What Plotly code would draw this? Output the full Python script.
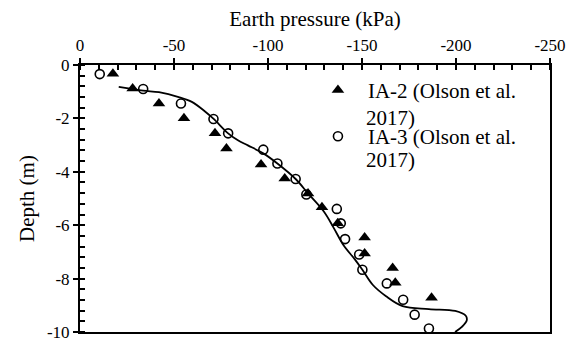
import plotly.graph_objects as go

# IA-2 measurements (triangles)
ia2_pressure = [-17.5, -28.0, -42.0, -55.3, -71.8, -77.9, -96.3, -108.9, -121.3,
                -128.7, -137.1, -151.4, -151.4, -166.3, -167.7, -187.0, -205.2]
ia2_depth = [-0.33, -0.88, -1.44, -1.99, -2.56, -3.13, -3.73, -4.25, -4.81,
             -5.33, -5.93, -6.46, -7.06, -7.60, -8.16, -8.72, -10.05]

# IA-3 measurements (open circles)
ia3_pressure = [-10.5, -33.6, -53.7, -71.0, -78.8, -97.5, -105.0, -114.7, -120.4,
                -136.6, -138.7, -141.0, -148.5, -150.2, -163.2, -171.9, -178.0, -185.6]
ia3_depth = [-0.34, -0.90, -1.44, -2.02, -2.56, -3.17, -3.69, -4.27, -4.85,
             -5.39, -5.93, -6.52, -7.10, -7.67, -8.18, -8.79, -9.35, -9.87]

# Computed earth pressure profile (solid line)
curve_pressure = [-20.6, -33.6, -42.0, -52.5, -59.5, -66.5, -71.1, -78.8, -84.0, -89.3,
                  -97.7, -105.0, -114.7, -121.3, -129.6, -134.8, -140.1, -146.2, -150.2,
                  -155.8, -162.8, -171.6, -185.6, -199.6, -205.2, -205.7, -203.1, -199.5]
curve_depth = [-0.82, -0.96, -1.02, -1.20, -1.38, -1.74, -2.02, -2.56, -2.82, -3.01,
               -3.32, -3.69, -4.27, -4.81, -5.48, -6.08, -6.74, -7.28, -7.67,
               -8.24, -8.66, -9.03, -9.14, -9.21, -9.39, -9.57, -9.81, -10.0]

x_tick_vals = [0, -50, -100, -150, -200, -250]
x_tick_text = ["0", "-50", "-100", "-150", "-200", "-250"]
y_tick_vals = [0, -2, -4, -6, -8, -10]
y_tick_text = ["0", "-2", "-4", "-6", "-8", "-10"]

legend_first_lines = ["IA-2 (Olson et al.", "IA-3 (Olson et al."]
legend_second_line = "2017)"

FONT = "Liberation Serif"
X_RANGE = [0, -250]
Y_RANGE = [-10, 0]

fig = go.Figure()

fig.add_trace(go.Scatter(
    x=curve_pressure, y=curve_depth, mode="lines",
    line=dict(color="black", width=1.8, shape="spline", smoothing=1.0),
    showlegend=False, hoverinfo="skip"))

fig.add_trace(go.Scatter(
    x=ia2_pressure, y=ia2_depth, mode="markers",
    name=legend_first_lines[0], legendgroup="ia2",
    marker=dict(symbol="triangle-up", size=11, color="black"),
    cliponaxis=False))

fig.add_trace(go.Scatter(
    x=ia3_pressure, y=ia3_depth, mode="markers",
    name=legend_first_lines[1], legendgroup="ia3",
    marker=dict(symbol="circle-open", size=9, color="black",
                line=dict(color="black", width=1.6)),
    cliponaxis=False))

# empty trace that carries the overlay axes used for the inner half of major ticks
fig.add_trace(go.Scatter(x=[], y=[], xaxis="x2", yaxis="y2",
                         showlegend=False, hoverinfo="skip"))

axis_common = dict(
    showgrid=False, zeroline=False,
    showline=True, linecolor="black", linewidth=2, mirror=True,
    ticks="outside", ticklen=5, tickwidth=1.5, tickcolor="black",
    tickfont=dict(family=FONT, size=17, color="black"),
)

fig.update_layout(
    width=577, height=353,
    margin=dict(l=80, r=21, t=65, b=11),
    paper_bgcolor="white", plot_bgcolor="white",
    font=dict(family=FONT, color="black"),
    xaxis=dict(
        **axis_common,
        side="top", range=X_RANGE,
        tickmode="array", tickvals=x_tick_vals, ticktext=x_tick_text,
        minor=dict(ticks="inside", ticklen=5, tickwidth=1.5, tickcolor="black",
                   tickmode="linear", tick0=0, dtick=10),
        title=dict(text="Earth pressure (kPa)",
                   font=dict(family=FONT, size=21, color="black"), standoff=4),
    ),
    yaxis=dict(
        **axis_common,
        range=Y_RANGE,
        tickmode="array", tickvals=y_tick_vals, ticktext=y_tick_text,
        minor=dict(ticks="inside", ticklen=5, tickwidth=1.5, tickcolor="black",
                   tickmode="linear", tick0=0, dtick=0.4),
        title=dict(text="Depth (m)",
                   font=dict(family=FONT, size=21, color="black"), standoff=7),
    ),
    xaxis2=dict(overlaying="x", side="top", range=X_RANGE, anchor="y2",
                showgrid=False, zeroline=False, showline=False,
                tickmode="array", tickvals=x_tick_vals, showticklabels=False,
                ticks="inside", ticklen=5, tickwidth=1.5, tickcolor="black"),
    yaxis2=dict(overlaying="y", side="left", range=Y_RANGE, anchor="x2",
                showgrid=False, zeroline=False, showline=False,
                tickmode="array", tickvals=y_tick_vals, showticklabels=False,
                ticks="inside", ticklen=5, tickwidth=1.5, tickcolor="black"),
    legend=dict(
        x=0.485, y=0.982, xanchor="left", yanchor="top",
        bgcolor="rgba(0,0,0,0)", borderwidth=0,
        font=dict(family=FONT, size=21, color="black"),
        itemwidth=50, tracegroupgap=16,
    ),
)

# wrapped second line of each legend label
for yp in (0.803, 0.645):
    fig.add_annotation(
        text=legend_second_line, xref="paper", yref="paper",
        x=0.605, y=yp, xanchor="left", yanchor="middle", showarrow=False,
        font=dict(family=FONT, size=21, color="black"))

fig.write_html("out.html")
